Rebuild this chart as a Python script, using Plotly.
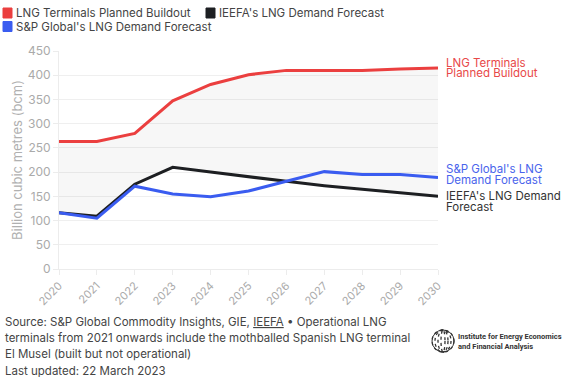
import plotly.graph_objects as go

years = [2020, 2021, 2022, 2023, 2024, 2025, 2026, 2027, 2028, 2029, 2030]
terminals = [263, 263, 280, 347, 381, 401, 410, 410, 410, 413, 415]
ieefa = [116, 109, 175, 210, 200, 190, 181, 172, 165, 158, 150]
sp_global = [116, 105, 171, 155, 149, 161, 181, 201, 195, 195, 189]

names = ["LNG Terminals Planned Buildout", "IEEFA's LNG Demand Forecast", "S&P Global's LNG Demand Forecast"]
RED, BLACK, BLUE = "#eb3f3f", "#1d1f22", "#3a5cf0"
FONT = "Inter"

W, H = 564, 377
ML, MR, MT, MB = 59, 126, 51, 108
PW, PH = W - ML - MR, H - MT - MB


def px(x):
    return (x - ML) / PW


def py(y):
    return (H - MB - y) / PH


fig = go.Figure()
fig.add_trace(go.Scatter(x=years, y=ieefa, mode="lines", line=dict(color=BLACK, width=3),
                         name=names[1], showlegend=False, hoverinfo="skip"))
fig.add_trace(go.Scatter(x=years, y=terminals, mode="lines", line=dict(color=RED, width=3),
                         name=names[0], fill="tonexty", fillcolor="rgba(0,0,0,0.03)",
                         showlegend=False, hoverinfo="skip"))
fig.add_trace(go.Scatter(x=years, y=sp_global, mode="lines", line=dict(color=BLUE, width=3),
                         name=names[2], showlegend=False, hoverinfo="skip"))

# manual legend (swatches + text)
leg_pos = [(3, 13), (206, 13), (3, 26.5)]
for n, c, (lx, ly) in zip(names, [RED, BLACK, BLUE], leg_pos):
    fig.add_shape(type="rect", xref="paper", yref="paper", x0=px(lx), x1=px(lx + 9),
                  y0=py(ly + 5), y1=py(ly - 5),
                  line=dict(color=c, width=1), fillcolor=c, layer="above")
    fig.add_annotation(x=px(lx + 10.5), y=py(ly), xref="paper", yref="paper", text=n, showarrow=False,
                       xanchor="left", yanchor="middle",
                       font=dict(family=FONT, size=11.5, color="#444444"))

# right-side labels (one annotation per line for tight spacing)
labels = [
    (terminals[-1], ["LNG Terminals", "Planned Buildout"], "#e84848", 0),
    (sp_global[-1], ["S&P Global's LNG", "Demand Forecast"], "#4a64ec", 3),
    (ieefa[-1], ["IEEFA's LNG Demand", "Forecast"], "#333333", -5),
]
for val, lines, col, sh in labels:
    for i, t in enumerate(lines):
        fig.add_annotation(x=years[-1], y=val, xref="x", yref="y", text=t, showarrow=False,
                           xanchor="left", yanchor="middle", xshift=6, yshift=sh + 5 - i * 10.5,
                           font=dict(family=FONT, size=11.5, color=col))

footer = ["Source: S&P Global Commodity Insights, GIE, <u>IEEFA</u> • Operational LNG",
          "terminals from 2021 onwards include the mothballed Spanish LNG terminal",
          "El Musel (built but not operational)",
          "Last updated: 22 March 2023"]
for i, t in enumerate(footer):
    fig.add_annotation(x=px(3), y=py(322 + i * 16.2), xref="paper", yref="paper", text=t, showarrow=False,
                       xanchor="left", yanchor="middle", font=dict(family=FONT, size=11.5, color="#444444"))

# logo: dotted globe + name
for k in range(4):
    fig.add_shape(type="circle", xref="paper", yref="paper",
                  x0=px(432 + 3 * k), x1=px(454 - 3 * k), y0=py(352), y1=py(330),
                  line=dict(color="#333333", width=1.3, dash="dot"), fillcolor="rgba(0,0,0,0)")
fig.add_shape(type="circle", xref="paper", yref="paper",
              x0=px(432), x1=px(454), y0=py(352), y1=py(330),
              line=dict(color="#333333", width=1), fillcolor="rgba(0,0,0,0)")
fig.add_annotation(x=px(456), y=py(341), xref="paper", yref="paper",
                   text="<b>Institute for Energy Economics<br>and Financial Analysis</b>", showarrow=False,
                   xanchor="left", yanchor="middle", align="left",
                   font=dict(family="Roboto", size=7.5, color="#333333"))

fig.update_layout(
    width=W, height=H,
    margin=dict(l=ML, r=MR, t=MT, b=MB, autoexpand=False),
    paper_bgcolor="white", plot_bgcolor="white",
    font=dict(family=FONT, color="#444444"),
    showlegend=False,
    xaxis=dict(range=[2020, 2030], tickmode="array", tickvals=years, ticktext=[str(y) for y in years],
               tickangle=-45, tickfont=dict(family=FONT, size=11, color="#aaaaaa"),
               showgrid=False, zeroline=False, showline=True, linecolor="#ececec", linewidth=1,
               ticks="outside", ticklen=5, tickcolor="#ececec", automargin=False),
    yaxis=dict(range=[0, 450], dtick=50, tickfont=dict(family=FONT, size=12, color="#aaaaaa"),
               showgrid=True, gridcolor="#efefef", zeroline=False, showline=True, linecolor="#ececec",
               ticks="outside", ticklen=5, tickcolor="#ececec", automargin=False,
               title=dict(text="Billion cubic metres (bcm)", font=dict(family=FONT, size=13, color="#b0b0b0"),
                          standoff=2)),
)

fig.write_html("out.html", config={"displayModeBar": False},
               post_script="document.body.style.margin='0';document.body.style.overflow='hidden';")
